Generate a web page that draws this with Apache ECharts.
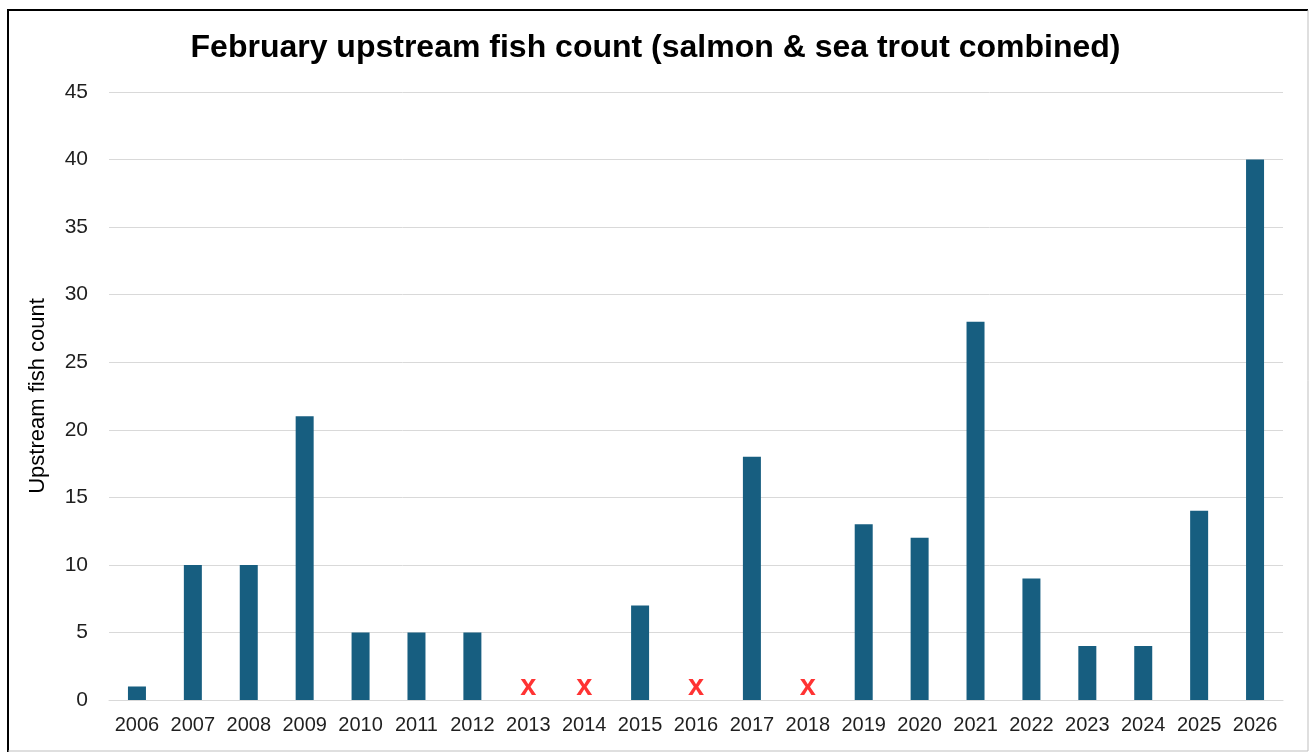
<!DOCTYPE html>
<html>
<head>
<meta charset="utf-8">
<script src="https://cdn.jsdelivr.net/npm/echarts@6/dist/echarts.min.js"></script>
<style>
  html, body { margin: 0; padding: 0; background: #fff; }
  #chart { width: 1311px; height: 753px; }
</style>
</head>
<body>
<div id="chart"></div>
<script>
  // years on the x axis
  const years = ['2006', '2007', '2008', '2009', '2010', '2011', '2012', '2013', '2014', '2015',
    '2016', '2017', '2018', '2019', '2020', '2021', '2022', '2023', '2024', '2025', '2026'];
  // fish counts (null = no data)
  const counts = [1, 10, 10, 21, 5, 5, 5, null, null, 7, null, 18, null, 13, 12, 28, 9, 4, 4, 14, 40];
  // years with no count, marked with a red x
  const missingYears = ['2013', '2014', '2016', '2018'];
  const missingMarkY = 1;

  const chart = echarts.init(document.getElementById('chart'));
  const font = 'Liberation Sans, Arial, sans-serif';

  chart.setOption({
    animation: false,
    title: {
      text: 'February upstream fish count (salmon & sea trout combined)',
      left: 'center',
      top: 27,
      textStyle: { fontFamily: font, fontSize: 32, fontWeight: 'bold', color: '#000' }
    },
    grid: { left: 109, right: 28, top: 92, bottom: 53 },
    xAxis: {
      type: 'category',
      data: years,
      axisTick: { show: false },
      axisLine: { lineStyle: { color: '#d9d9d9', width: 1 } },
      axisLabel: { fontFamily: font, fontSize: 20, color: '#1f1f1f', margin: 15, interval: 0 }
    },
    yAxis: {
      type: 'value',
      min: 0,
      max: 45,
      interval: 5,
      name: 'Upstream fish count',
      nameLocation: 'middle',
      nameGap: 60,
      nameTextStyle: { fontFamily: font, fontSize: 22, color: '#000' },
      axisLabel: { fontFamily: font, fontSize: 21, color: '#1f1f1f', margin: 21 },
      splitLine: { lineStyle: { color: '#d9d9d9', width: 1 } }
    },
    series: [
      {
        type: 'bar',
        data: counts,
        barWidth: 18,
        itemStyle: { color: '#175e80' }
      },
      {
        type: 'scatter',
        data: missingYears.map(y => [y, missingMarkY]),
        symbolSize: 0,
        label: {
          show: true,
          position: 'inside',
          formatter: 'x',
          fontFamily: font,
          fontSize: 29,
          fontWeight: 'bold',
          color: '#ff0000',
          offset: [0, 1]
        }
      }
    ],
    graphic: [
      {
        type: 'polyline',
        shape: { points: [[8, 752], [8, 10], [1308, 10]] },
        style: { stroke: '#000', lineWidth: 2, fill: null }
      },
      {
        type: 'polyline',
        shape: { points: [[1308, 10], [1308, 751], [8, 751]] },
        style: { stroke: '#bfbfbf', lineWidth: 1, fill: null }
      }
    ]
  });
</script>
</body>
</html>
